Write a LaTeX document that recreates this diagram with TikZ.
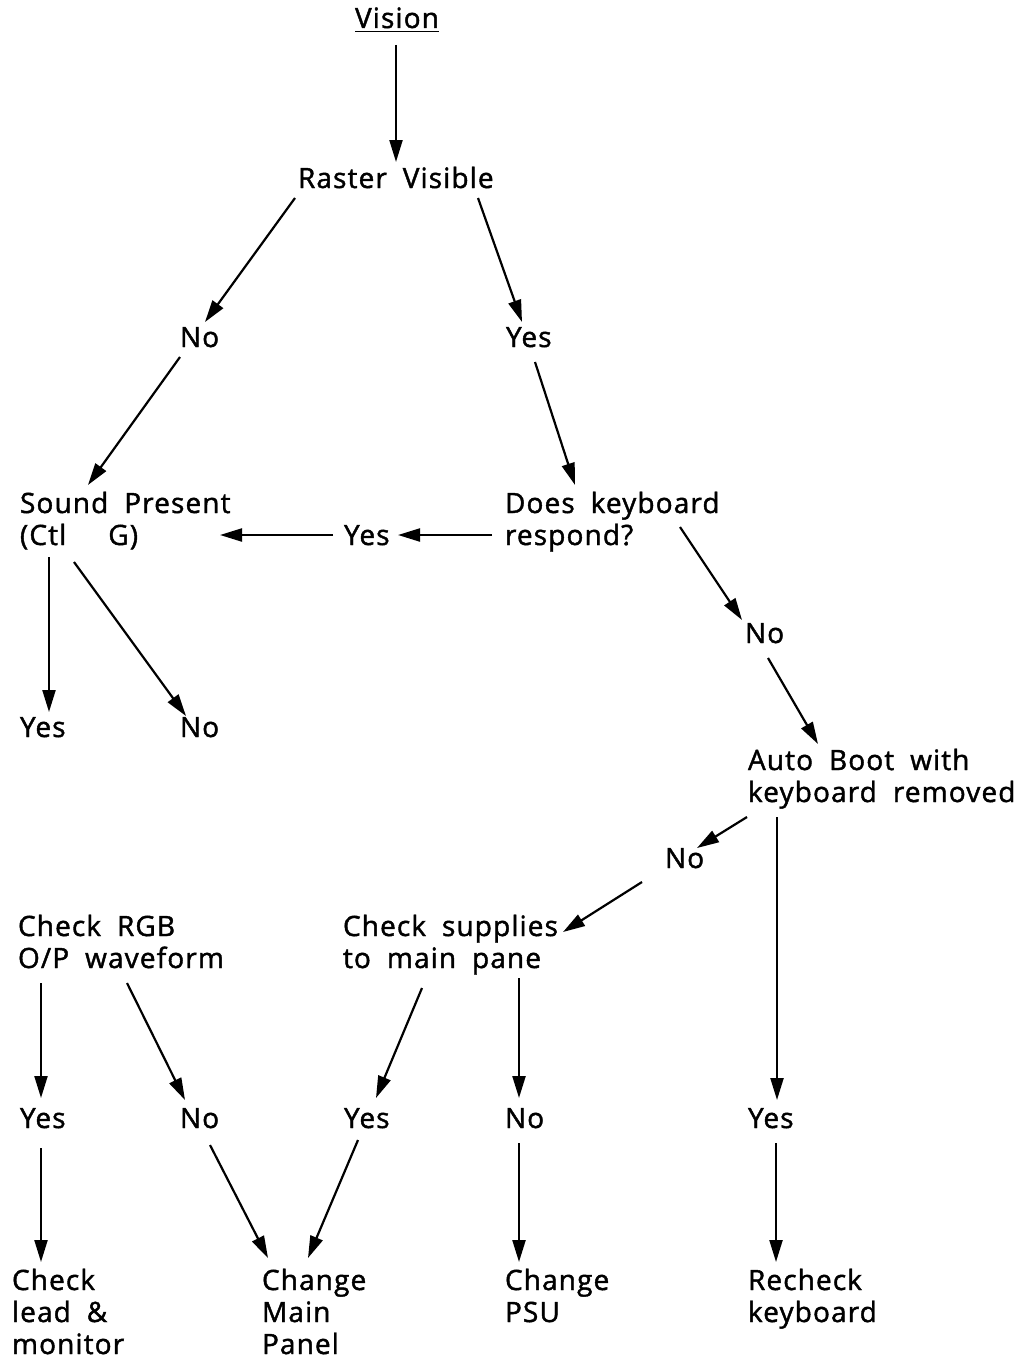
\documentclass[tikz,border=0pt]{standalone}
\usepackage{fontspec}
\setmainfont{Open Sans}[LetterSpace=4,WordSpace=1.9,FakeBold=1.5]
\usetikzlibrary{arrows.meta}

\begin{document}
\begin{tikzpicture}[x=0.5pt,y=-0.5pt,
	every node/.style={inner sep=0pt,outer sep=0pt,anchor=base west,align=left,
		font=\fontsize{14}{16}\selectfont},
	arr/.style={line width=1.1pt,-{Triangle[length=11pt,width=6.5pt]}}]
	\useasboundingbox (0,0) rectangle (1024,1359);
	% nodes (multi-line ones sit on their last line)
	\node[anchor=base] (vision) at (397,28) {\underline{Vision}};
	\node (raster) at (298,188) {Raster Visible};
	\node (rno) at (180,347) {No};
	\node (ryes) at (506,347) {Yes};
	\node (sound) at (20,545) {Sound Present\\(Ctl\hspace{1.5em}G)};
	\node (kbd) at (505,545) {Does keyboard\\respond?};
	\node (kyes) at (344,545) {Yes};
	\node (syes) at (20,737) {Yes};
	\node (sno) at (180,737) {No};
	\node (kno) at (745,643) {No};
	\node (autoboot) at (748,802) {Auto Boot with\\keyboard removed};
	\node (ano) at (665,868) {No};
	\node (rgb) at (18,968) {Check RGB\\O/P waveform};
	\node (supply) at (343,968) {Check supplies\\to main pane};
	\node (gyes) at (20,1128) {Yes};
	\node (gno) at (180,1128) {No};
	\node (pyes) at (344,1128) {Yes};
	\node (pno) at (505,1128) {No};
	\node (ayes) at (748,1128) {Yes};
	\node (lead) at (12,1354) {Check\\lead \&\\monitor};
	\node (panel) at (262,1354) {Change\\Main\\Panel};
	\node (psu) at (505,1322) {Change\\PSU};
	\node (recheck) at (748,1322) {Recheck\\keyboard};
	% connectors
	\draw[arr] ([shift={(-1,17)}]vision.base) -- ([shift={(98,-26)}]raster.base west);
	\draw[arr] ([shift={(-3,10)}]raster.base west) -- ([shift={(25,-25)}]rno.base west);
	\draw[arr] ([shift={(180,10)}]raster.base west) -- ([shift={(16,-25)}]ryes.base west);
	\draw[arr] ([shift={(0,10)}]rno.base west) -- ([shift={(68,-60)}]sound.base west);
	\draw[arr] ([shift={(29,15)}]ryes.base west) -- ([shift={(70,-60)}]kbd.base west);
	\draw[arr] ([shift={(-13,-10)}]kbd.base west) -- ([shift={(54,-10)}]kyes.base west);
	\draw[arr] ([shift={(-11,-10)}]kyes.base west) -- ([shift={(200,-10)}]sound.base west);
	\draw[arr] ([shift={(29,12)}]sound.base west) -- ([shift={(29,-25)}]syes.base west);
	\draw[arr] ([shift={(54,17)}]sound.base west) -- ([shift={(6,-21)}]sno.base west);
	\draw[arr] ([shift={(175,-18)}]kbd.base west) -- ([shift={(-3,-23)}]kno.base west);
	\draw[arr] ([shift={(23,15)}]kno.base west) -- ([shift={(70,-58)}]autoboot.base west);
	\draw[arr] ([shift={(-1,15)}]autoboot.base west) -- ([shift={(32,-20)}]ano.base west);
	\draw[arr] ([shift={(-23,14)}]ano.base west) -- ([shift={(220,-36)}]supply.base west);
	\draw[arr] ([shift={(29,15)}]autoboot.base west) -- ([shift={(29,-28)}]ayes.base west);
	\draw[arr] ([shift={(23,15)}]rgb.base west) -- ([shift={(21,-30)}]gyes.base west);
	\draw[arr] ([shift={(109,15)}]rgb.base west) -- ([shift={(5,-28)}]gno.base west);
	\draw[arr] ([shift={(79,20)}]supply.base west) -- ([shift={(32,-30)}]pyes.base west);
	\draw[arr] ([shift={(176,10)}]supply.base west) -- ([shift={(14,-30)}]pno.base west);
	\draw[arr] ([shift={(21,20)}]gyes.base west) -- ([shift={(29,-92)}]lead.base west);
	\draw[arr] ([shift={(30,17)}]gno.base west) -- ([shift={(6,-96)}]panel.base west);
	\draw[arr] ([shift={(14,12)}]pyes.base west) -- ([shift={(46,-96)}]panel.base west);
	\draw[arr] ([shift={(14,15)}]pno.base west) -- ([shift={(14,-60)}]psu.base west);
	\draw[arr] ([shift={(28,15)}]ayes.base west) -- ([shift={(28,-60)}]recheck.base west);
\end{tikzpicture}
\end{document}
